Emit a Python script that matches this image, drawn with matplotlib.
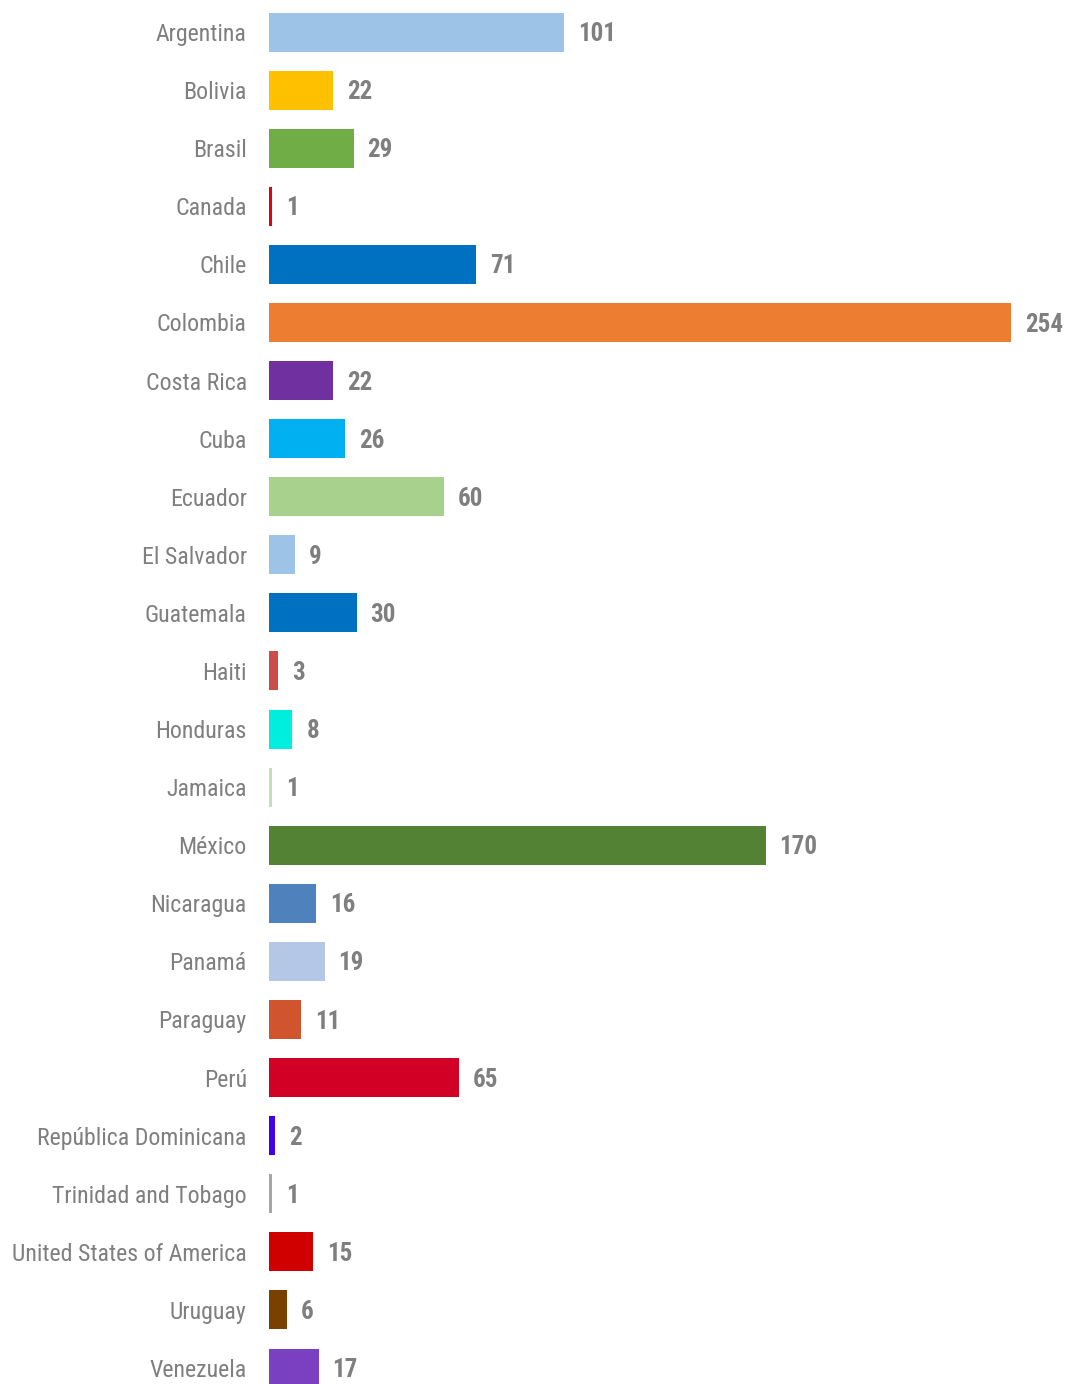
import matplotlib

matplotlib.use("Agg")
import matplotlib.pyplot as plt

countries = [
    "Argentina", "Bolivia", "Brasil", "Canada", "Chile", "Colombia",
    "Costa Rica", "Cuba", "Ecuador", "El Salvador", "Guatemala", "Haiti",
    "Honduras", "Jamaica", "México", "Nicaragua", "Panamá", "Paraguay",
    "Perú", "República Dominicana", "Trinidad and Tobago",
    "United States of America", "Uruguay", "Venezuela",
]
counts = [101, 22, 29, 1, 71, 254, 22, 26, 60, 9, 30, 3, 8, 1, 170, 16,
          19, 11, 65, 2, 1, 15, 6, 17]
bar_colors = [
    "#9dc3e6", "#ffc000", "#70ad47", "#e3000f", "#0070c0", "#ed7d31",
    "#7030a0", "#00b0f0", "#a9d18e", "#9dc3e6", "#0070c0", "#cc4c48",
    "#00eedd", "#c5e0b4", "#548235", "#4f81bd", "#b4c7e7", "#d0552f",
    "#d20024", "#4000e8", "#a6a6a6", "#d00000", "#7a4000", "#7b3fc2",
]

plt.rcParams["font.family"] = ["Roboto Condensed", "DejaVu Sans"]

W, H = 1065, 1384
fig = plt.figure(figsize=(W / 100, H / 100), dpi=100)
left_px = 269
ax = fig.add_axes([left_px / W, 0, 1 - left_px / W, 1])

# pixel geometry
px_per_unit = (1011 - left_px) / 254
row_px = (1368 - 32) / 23
ax.set_xlim(0, (W - left_px) / px_per_unit)
ax.set_ylim((H - 32) / row_px, -32 / row_px)

pos = list(range(len(countries)))
ax.barh(pos, counts, height=39 / row_px, color=bar_colors)

grey = "#7f7f7f"
for y, v in zip(pos, counts):
    ax.annotate(str(v), (v, y), xytext=(10, -1.5), textcoords="offset points",
                ha="left", va="center", fontsize=18, fontweight="bold",
                color=grey)

ax.set_yticks(pos)
ax.set_yticklabels(countries, fontsize=17.2, color=grey)
ax.tick_params(axis="y", length=0, pad=16)
ax.set_xticks([])
for spine in ax.spines.values():
    spine.set_visible(False)

fig.savefig("out.png", dpi=100)
